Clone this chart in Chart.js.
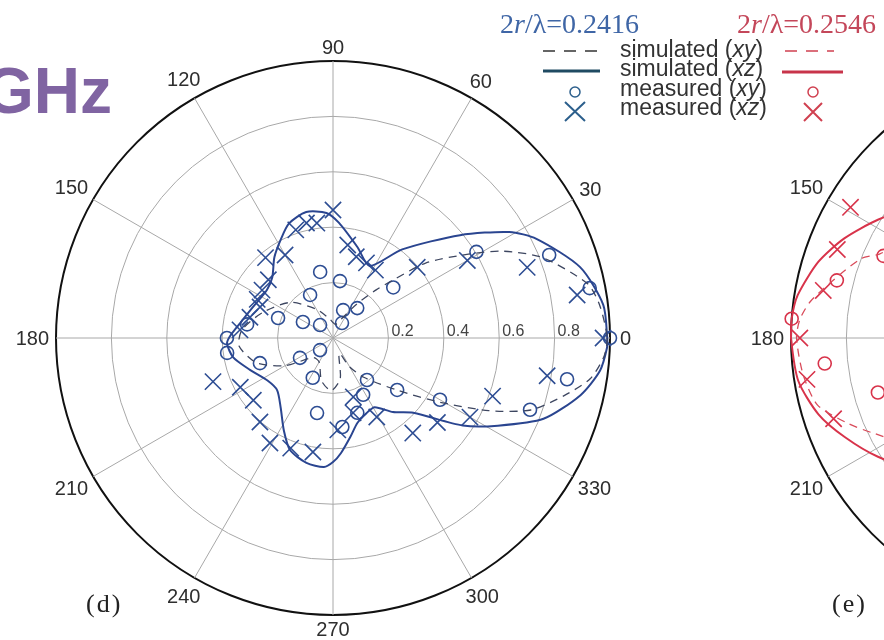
<!DOCTYPE html>
<html>
<head>
<meta charset="utf-8">
<script src="https://cdn.jsdelivr.net/npm/chart.js@4.4.1/dist/chart.umd.min.js"></script>
<style>
    html, body { margin: 0; padding: 0; background: #fff; overflow: hidden; }
    #page { position: relative; width: 884px; height: 640px; overflow: hidden; background: #fff; }
    canvas { position: absolute; top: 0; }
    #chartD { left: 0; }
    #chartE { left: 735px; }
    .ghz { position: absolute; left: -16px; top: 59px; font: bold 64px/64px "Liberation Sans", Arial, sans-serif; color: #8064a2; white-space: nowrap; }
    .title { position: absolute; top: 10px; font: 28px/28px "Liberation Serif", "Times New Roman", serif; white-space: nowrap; }
    .leg { position: absolute; left: 620px; font: 23px/23px "Liberation Sans", Arial, sans-serif; color: #333; white-space: nowrap; }
    .panel { position: absolute; top: 591px; font: 26px/26px "Liberation Serif", "Times New Roman", serif; color: #222; letter-spacing: 2px; }
    svg { position: absolute; left: 0; top: 0; }
</style>
</head>
<body>
<div id="page">
    <canvas id="chartD" width="884" height="640"></canvas>
    <canvas id="chartE" width="640" height="640"></canvas>

    <div class="ghz">GHz</div>

    <div class="title" style="left:500px; color:#3f66a6">2<i>r</i>/λ=0.2416</div>
    <div class="title" style="left:737px; color:#c4475a">2<i>r</i>/λ=0.2546</div>

    <div class="leg" style="top:38px">simulated (<i>xy</i>)</div>
    <div class="leg" style="top:57px">simulated (<i>xz</i>)</div>
    <div class="leg" style="top:77px">measured (<i>xy</i>)</div>
    <div class="leg" style="top:96px">measured (<i>xz</i>)</div>

    <!-- legend symbols -->
    <svg width="884" height="130">
        <line x1="543" y1="51" x2="598" y2="51" stroke="#333" stroke-width="1.5" stroke-dasharray="12 9"/>
        <line x1="543" y1="71" x2="600" y2="71" stroke="#1f4a62" stroke-width="3"/>
        <circle cx="575" cy="92" r="5" fill="none" stroke="#2c5f8c" stroke-width="1.5"/>
        <path d="M565 102 L585 121 M585 102 L565 121" stroke="#2c5f8c" stroke-width="2"/>

        <line x1="785" y1="51" x2="834" y2="51" stroke="#d04050" stroke-width="1.5" stroke-dasharray="12 9"/>
        <line x1="782" y1="72" x2="843" y2="72" stroke="#c8344a" stroke-width="3"/>
        <circle cx="813" cy="92" r="5" fill="none" stroke="#d04050" stroke-width="1.5"/>
        <path d="M804 103 L822 121 M822 103 L804 121" stroke="#d04050" stroke-width="2"/>
    </svg>

    <div class="panel" style="left:86px">(d)</div>
    <div class="panel" style="left:832px">(e)</div>
</div>

<script>
// tick labels
const angleTickLabels = [0, 30, 60, 90, 120, 150, 180, 210, 240, 270, 300, 330];
const radialTickLabels = [0.2, 0.4, 0.6, 0.8];

// (d) 2r/λ = 0.2416
const dSimXzAngles = [0, 7, 16, 26, 31, 39, 52, 63, 75, 87, 93, 102, 111, 118, 126, 135, 144, 159, 171, 179,
    183, 191, 201, 213, 223, 233, 242, 249, 258, 266, 270, 274, 280, 286, 294, 301, 309, 317, 326, 332, 339, 347, 353, 358];
const dSimXzValues = [0.99, 0.983, 0.928, 0.817, 0.743, 0.59, 0.406, 0.292, 0.34, 0.416, 0.452, 0.465, 0.443, 0.402, 0.36, 0.31, 0.295, 0.31, 0.34, 0.372,
    0.383, 0.367, 0.321, 0.282, 0.276, 0.314, 0.378, 0.433, 0.461, 0.467, 0.448, 0.416, 0.362, 0.319, 0.297, 0.292, 0.344, 0.396, 0.565, 0.674, 0.814, 0.917, 0.971, 0.99];

const dSimXyAngles = [0, 7, 12, 21, 27, 32, 39, 44, 48, 55, 65, 80, 100, 120, 140, 160, 175, 185, 198, 210,
    225, 240, 255, 268, 280, 292, 300, 308, 321, 329, 335, 340, 346, 351, 356];
const dSimXyValues = [0.99, 0.97, 0.94, 0.81, 0.69, 0.57, 0.43, 0.30, 0.235, 0.15, 0.08, 0.05, 0.07, 0.12, 0.2, 0.27, 0.33, 0.34, 0.29, 0.2,
    0.1, 0.1, 0.16, 0.19, 0.15, 0.06, 0.12, 0.18, 0.30, 0.45, 0.62, 0.76, 0.86, 0.94, 0.98];

const dMeasXzAngles = [0, 10, 20, 30, 40, 58, 66, 74, 81, 90, 98, 103, 109, 120, 130, 138, 146, 153, 157, 166, 175,
    200, 208, 218, 229, 239, 249, 260, 273, 285, 289, 299, 310, 321, 330, 340, 350];
const dMeasXzValues = [0.975, 0.895, 0.746, 0.56, 0.397, 0.289, 0.297, 0.305, 0.34, 0.462, 0.419, 0.426, 0.413, 0.346, 0.379, 0.314, 0.309, 0.307, 0.286, 0.309, 0.337,
    0.461, 0.379, 0.365, 0.402, 0.442, 0.426, 0.418, 0.332, 0.28, 0.225, 0.326, 0.448, 0.485, 0.571, 0.613, 0.785];

const dMeasXyAngles = [0, 11, 21, 31, 40, 51, 59, 70, 83, 101, 118, 135, 152, 160, 171, 180, 188, 199, 211, 223,
    243, 258, 276, 288, 298, 309, 321, 330, 340, 350];
const dMeasXyValues = [1.0, 0.944, 0.836, 0.604, 0.284, 0.139, 0.063, 0.107, 0.207, 0.243, 0.176, 0.066, 0.123, 0.211, 0.314, 0.383, 0.386, 0.279, 0.139, 0.064,
    0.161, 0.277, 0.323, 0.284, 0.232, 0.195, 0.298, 0.446, 0.757, 0.858];

// (e) 2r/λ = 0.2546 (only the left part is inside the picture)
const eSimXzAngles = [0, 30, 60, 90, 120, 135, 148, 156, 163, 171, 176, 180, 189, 197, 204, 212, 225, 240, 270, 300, 330];
const eSimXzValues = [0.95, 0.7, 0.55, 0.5, 0.6, 0.7, 0.807, 0.884, 0.942, 0.988, 1.0, 1.0, 0.986, 0.942, 0.881, 0.809, 0.7, 0.6, 0.5, 0.55, 0.7];

const eSimXyAngles = [0, 45, 90, 135, 156, 159, 167, 172, 176, 180, 188, 195, 201, 206, 225, 270, 315];
const eSimXyValues = [0.9, 0.5, 0.3, 0.6, 0.745, 0.8, 0.882, 0.94, 0.97, 0.98, 0.965, 0.936, 0.855, 0.783, 0.6, 0.3, 0.5];

const eMeasXzAngles = [149, 159, 169, 180, 189, 199];
const eMeasXzValues = [0.916, 0.892, 0.90, 0.968, 0.954, 0.895];

const eMeasXyAngles = [156, 166, 176, 186, 196];
const eMeasXyValues = [0.729, 0.86, 1.0, 0.883, 0.714];

// radar scale: one label per degree, startAngle 90 puts index 0 on the right,
// index i sits at angle (360 - i) so angles run counter-clockwise
const degreeLabels = [];
for (let i = 0; i < 360; i++) degreeLabels.push((360 - i) % 360);

function indexForAngle(a) {
    return (360 - (Math.round(a) % 360)) % 360;
}

function toRadar(angles, values) {
    const out = new Array(degreeLabels.length).fill(null);
    angles.forEach((a, i) => { out[indexForAngle(a)] = values[i]; });
    return out;
}

function lineSet(angles, values, color, dash, width) {
    return {
        data: toRadar(angles, values),
        borderColor: color,
        borderWidth: width,
        borderDash: dash,
        fill: false,
        spanGaps: true,
        tension: 0.25,
        pointRadius: 0
    };
}

function markerSet(angles, values, color, style, radius) {
    return {
        data: toRadar(angles, values),
        showLine: false,
        fill: false,
        pointStyle: style,
        pointRadius: radius,
        pointBorderColor: color,
        pointBackgroundColor: 'rgba(0,0,0,0)',
        pointBorderWidth: 1.6
    };
}

// tick labels along the 0 deg line and angle labels round the rim
const polarLabels = {
    id: 'polarLabels',
    beforeDatasetsDraw(chart) {
        const r = chart.scales.r;
        const ctx = chart.ctx;
        ctx.save();
        ctx.font = '16px "Liberation Sans", Arial, sans-serif';
        ctx.fillStyle = '#444';
        ctx.textAlign = 'left';
        ctx.textBaseline = 'alphabetic';
        radialTickLabels.forEach(v => {
            const d = r.getDistanceFromCenterForValue(v);
            ctx.fillText(v.toFixed(1), r.xCenter + d + 3, r.yCenter - 2);
        });
        ctx.restore();
    },
    afterDraw(chart) {
        const r = chart.scales.r;
        const ctx = chart.ctx;
        ctx.save();
        ctx.font = '20px "Liberation Sans", Arial, sans-serif';
        ctx.fillStyle = '#2e2e2e';
        ctx.textAlign = 'center';
        ctx.textBaseline = 'middle';
        angleTickLabels.forEach(a => {
            const txt = String(a);
            const w = ctx.measureText(txt).width;
            const rad = a * Math.PI / 180;
            const extra = Math.abs(Math.cos(rad)) * w / 2 + Math.abs(Math.sin(rad)) * 7;
            const gap = a === 0 ? 10 : 7;
            const p = r.getPointPosition(indexForAngle(a), r.drawingArea + gap + extra);
            ctx.fillText(txt, p.x, p.y + 1);
        });
        ctx.restore();
    }
};

function makeChart(id, datasets, padding) {
    return new Chart(document.getElementById(id), {
        type: 'radar',
        data: { labels: degreeLabels, datasets: datasets },
        options: {
            responsive: false,
            animation: false,
            layout: { padding: padding },
            plugins: { legend: { display: false }, tooltip: { enabled: false } },
            scales: {
                r: {
                    min: 0,
                    max: 1,
                    startAngle: 90,
                    ticks: { stepSize: 0.2, display: false },
                    pointLabels: { display: false },
                    grid: {
                        circular: true,
                        color: c => (c.tick && c.tick.value >= 1 ? '#111' : '#a8a8a8'),
                        lineWidth: c => (c.tick && c.tick.value >= 1 ? 2 : 1)
                    },
                    angleLines: {
                        color: c => (c.index % 30 === 0 ? '#a8a8a8' : 'rgba(0,0,0,0)'),
                        lineWidth: c => (c.index % 30 === 0 ? 1 : 0)
                    }
                }
            }
        },
        plugins: [polarLabels]
    });
}

const blueLine = '#2a4590';
const blueDash = '#3d4660';
const blueMark = '#2d4d93';
const redLine = '#d8334a';
const redDash = '#d94b5a';
const redMark = '#d8334a';

makeChart('chartD', [
    lineSet(dSimXyAngles, dSimXyValues, blueDash, [8, 6], 1.3),
    lineSet(dSimXzAngles, dSimXzValues, blueLine, [], 2),
    markerSet(dMeasXyAngles, dMeasXyValues, blueMark, 'circle', 6.5),
    markerSet(dMeasXzAngles, dMeasXzValues, blueMark, 'crossRot', 11.5)
], { left: 56, top: 61, right: 274, bottom: 25 });

makeChart('chartE', [
    lineSet(eSimXyAngles, eSimXyValues, redDash, [8, 6], 1.3),
    lineSet(eSimXzAngles, eSimXzValues, redLine, [], 2),
    markerSet(eMeasXyAngles, eMeasXyValues, redMark, 'circle', 6.5),
    markerSet(eMeasXzAngles, eMeasXzValues, redMark, 'crossRot', 11.5)
], { left: 56, top: 61, right: 30, bottom: 25 })
</script>
</body>
</html>
